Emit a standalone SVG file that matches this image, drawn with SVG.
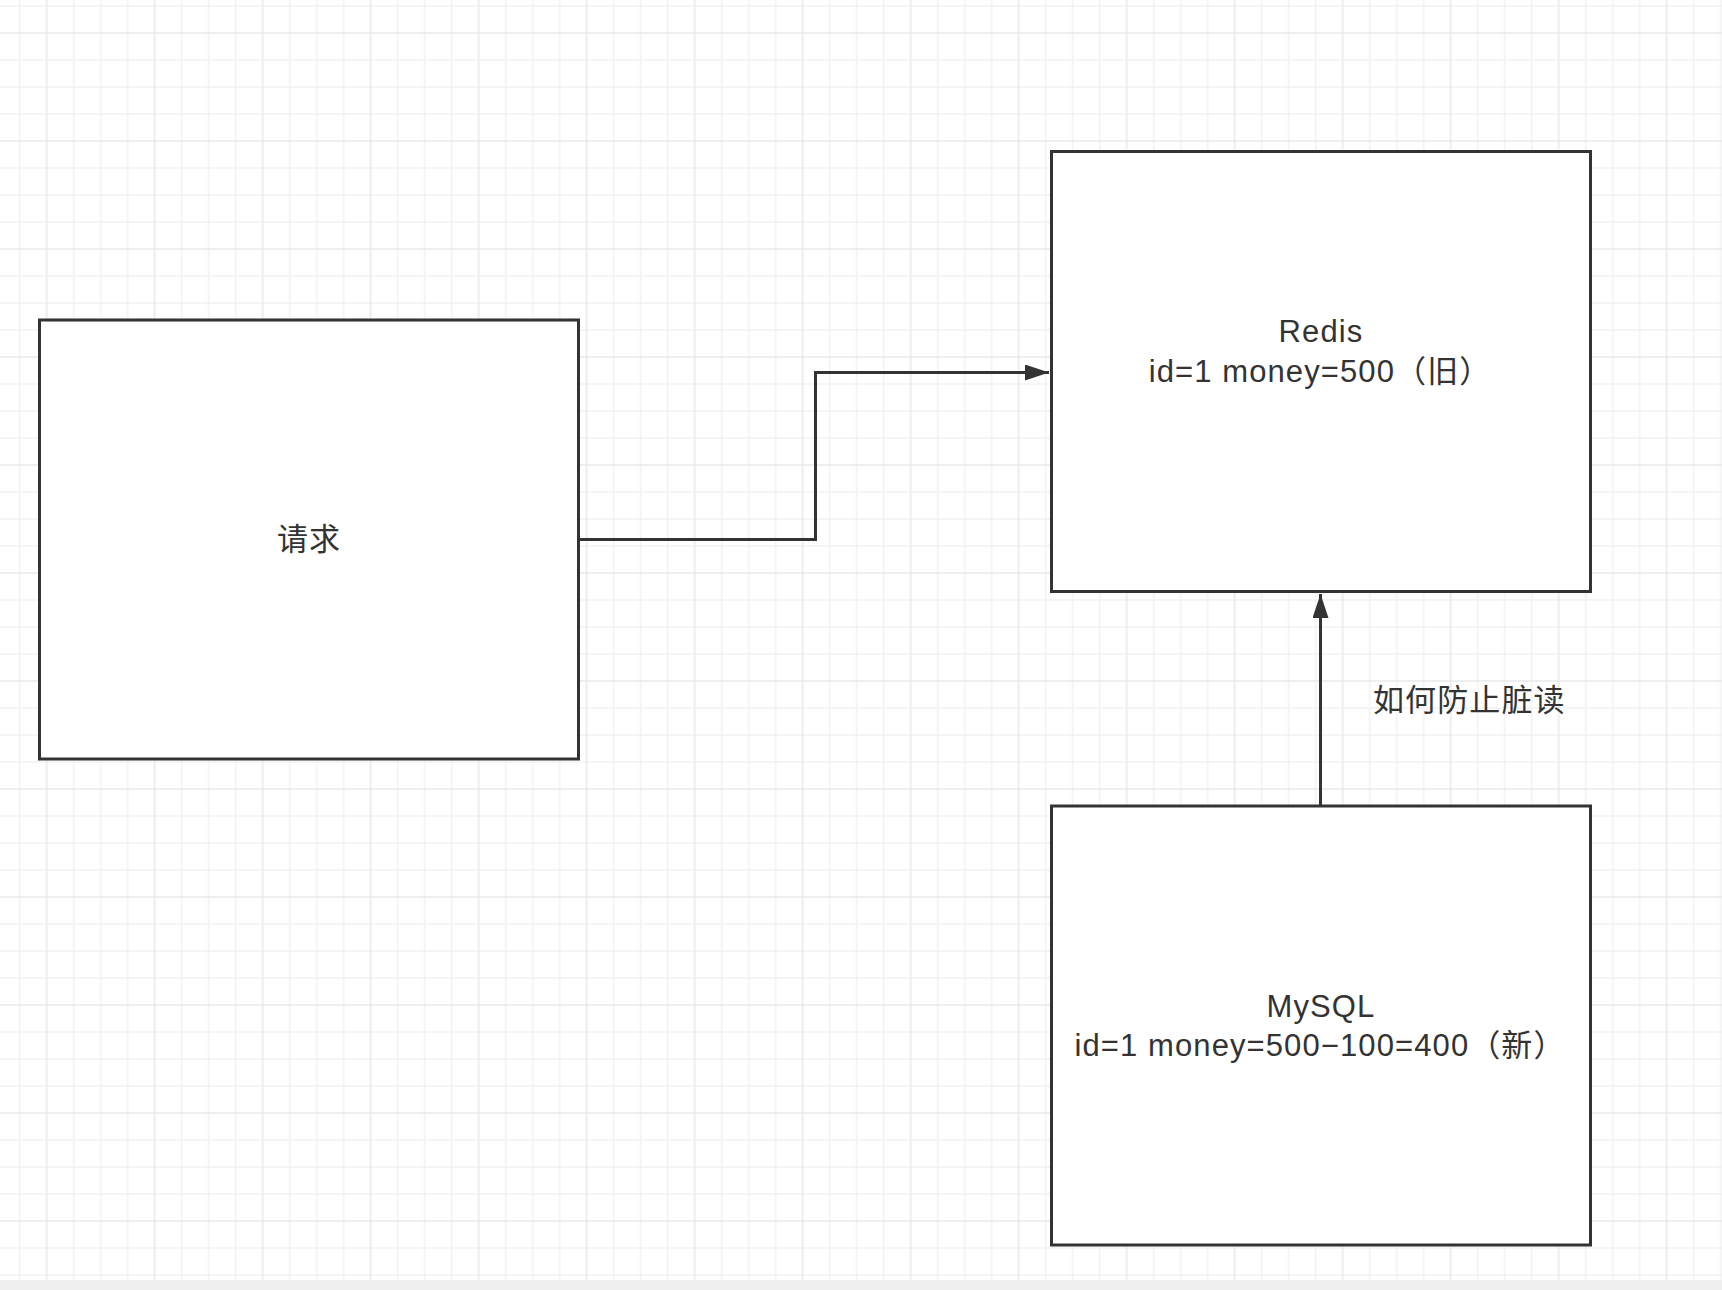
<svg xmlns="http://www.w3.org/2000/svg" width="1722" height="1290" viewBox="0 0 1722 1290">
  <style>
    .box { fill: #ffffff; stroke: #333333; stroke-width: 3; }
    .lbl { font-family: "Liberation Sans", "Noto Sans CJK SC", sans-serif; font-size: 31px; letter-spacing: 1.1px; fill: #333333; }
    .c { text-anchor: middle; }
    .edge { fill: none; stroke: #333333; stroke-width: 3; }
  </style>
  <defs>
    <pattern id="grid" patternUnits="userSpaceOnUse" x="46.7" y="33" width="108" height="108">
      <rect x="0" y="0" width="108" height="108" fill="#ffffff"/>
      <g fill="#f2f2f2">
        <rect x="26.3" y="0" width="1.4" height="108"/>
        <rect x="53.3" y="0" width="1.4" height="108"/>
        <rect x="80.3" y="0" width="1.4" height="108"/>
        <rect x="0" y="26.3" width="108" height="1.4"/>
        <rect x="0" y="53.3" width="108" height="1.4"/>
        <rect x="0" y="80.3" width="108" height="1.4"/>
      </g>
      <g fill="#e7e7e7">
        <rect x="-0.7" y="0" width="1.4" height="108"/>
        <rect x="107.3" y="0" width="1.4" height="108"/>
        <rect x="0" y="-0.7" width="108" height="1.4"/>
        <rect x="0" y="107.3" width="108" height="1.4"/>
      </g>
    </pattern>
    <marker id="arrow" markerUnits="userSpaceOnUse" markerWidth="26" markerHeight="18" refX="24" refY="8" orient="auto">
      <path d="M0,0 L24,8 L0,16 Z" fill="#333333"/>
    </marker>
  </defs>

  <rect x="0" y="0" width="1722" height="1280" fill="url(#grid)"/>
  <rect x="0" y="1280" width="1722" height="10" fill="#efefef"/>

  <g id="connectors">
    <path class="edge" d="M578.5,539.5 L815.5,539.5 L815.5,372.5 L1049,372.5" marker-end="url(#arrow)"/>
    <path class="edge" d="M1320.5,806 L1320.5,594" marker-end="url(#arrow)"/>
    <text class="lbl" x="1373" y="711">如何防止脏读</text>
  </g>

  <g id="node-request">
    <rect class="box" x="39.5" y="320" width="539" height="439"/>
    <text class="lbl c" x="309" y="550">请求</text>
  </g>

  <g id="node-redis">
    <rect class="box" x="1051.5" y="151.5" width="539" height="440"/>
    <text class="lbl c" x="1321" y="342">Redis</text>
    <text class="lbl c" x="1320" y="382">id=1 money=500（旧）</text>
  </g>

  <g id="node-mysql">
    <rect class="box" x="1051.5" y="806" width="539" height="439"/>
    <text class="lbl c" x="1321" y="1017">MySQL</text>
    <text class="lbl c" x="1320" y="1056">id=1 money=500−100=400（新）</text>
  </g>
</svg>
